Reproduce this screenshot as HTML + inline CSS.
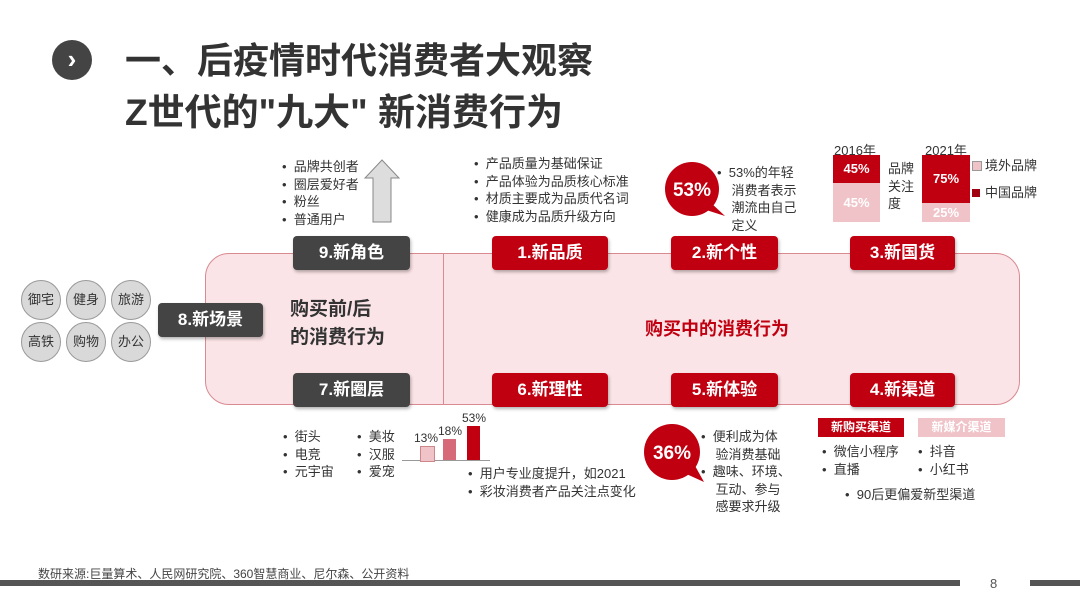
<!DOCTYPE html>
<html><head><meta charset="utf-8"><style>
body{margin:0;width:1080px;height:608px;background:#fff;position:relative;overflow:hidden;font-family:"Liberation Sans","Noto Sans CJK SC",sans-serif;color:#333}
.a{position:absolute;white-space:nowrap}
.tag{position:absolute;height:34px;line-height:34px;text-align:center;color:#fff;font-weight:bold;font-size:17px;border-radius:4px;box-shadow:1px 2px 3px rgba(0,0,0,.3)}
.dk{background:#444}.rd{background:#c00010}
.c{position:absolute;width:38px;height:38px;border-radius:50%;background:#d9d9d9;border:1px solid #999;text-align:center;line-height:38px;font-size:13px;color:#333}
.s{font-size:13px;line-height:17.5px}
</style></head><body>
<div class="a" style="left:52px;top:40px;width:40px;height:40px;border-radius:50%;background:#444;color:#fff;font-size:26px;text-align:center;line-height:38px;font-weight:bold">›</div>
<div class="a" style="left:125px;top:32px;font-size:36px;font-weight:bold;color:#333">一、后疫情时代消费者大观察</div>
<div class="a" style="left:125px;top:82px;font-size:37px;font-weight:bold;color:#333">Z世代的"九大" 新消费行为</div>

<div class="a" style="left:205px;top:253px;width:813px;height:150px;background:#fbe4e7;border:1px solid #d88a90;border-radius:24px"></div>
<div class="a" style="left:443px;top:253px;width:1px;height:152px;background:#d88a90"></div>

<div class="tag dk" style="left:293px;top:236px;width:117px">9.新角色</div>
<div class="tag rd" style="left:492px;top:236px;width:116px">1.新品质</div>
<div class="tag rd" style="left:671px;top:236px;width:107px">2.新个性</div>
<div class="tag rd" style="left:850px;top:236px;width:105px">3.新国货</div>
<div class="tag dk" style="left:293px;top:373px;width:117px">7.新圈层</div>
<div class="tag rd" style="left:492px;top:373px;width:116px">6.新理性</div>
<div class="tag rd" style="left:671px;top:373px;width:107px">5.新体验</div>
<div class="tag rd" style="left:850px;top:373px;width:105px">4.新渠道</div>
<div class="tag dk" style="left:158px;top:303px;width:105px">8.新场景</div>

<div class="c" style="left:21px;top:280px">御宅</div><div class="c" style="left:66px;top:280px">健身</div><div class="c" style="left:111px;top:280px">旅游</div>
<div class="c" style="left:21px;top:322px">高铁</div><div class="c" style="left:66px;top:322px">购物</div><div class="c" style="left:111px;top:322px">办公</div>

<div class="a" style="left:290px;top:296px;font-size:19px;font-weight:bold;line-height:28px;color:#333">购买前/后<br>的消费行为</div>
<div class="a" style="left:645px;top:315px;font-size:18px;font-weight:bold;color:#c00010">购买中的消费行为</div>

<div class="a s" style="left:282px;top:158px">•&nbsp;&nbsp;品牌共创者<br>•&nbsp;&nbsp;圈层爱好者<br>•&nbsp;&nbsp;粉丝<br>•&nbsp;&nbsp;普通用户</div>
<svg class="a" style="left:362px;top:158px" width="40" height="66"><polygon points="20,2 37,20 29,20 29,64 11,64 11,20 3,20" fill="#ddd" stroke="#888"/></svg>

<div class="a s" style="left:474px;top:155px">•&nbsp;&nbsp;产品质量为基础保证<br>•&nbsp;&nbsp;产品体验为品质核心标准<br>•&nbsp;&nbsp;材质主要成为品质代名词<br>•&nbsp;&nbsp;健康成为品质升级方向</div>

<svg class="a" style="left:660px;top:158px" width="66" height="66"><circle cx="32" cy="31" r="27" fill="#c00010"/><polygon points="40,50 65,58 50,44" fill="#c00010"/><text x="32" y="38" fill="#fff" font-size="19" font-weight="bold" text-anchor="middle" font-family="Liberation Sans">53%</text></svg>
<div class="a s" style="left:717px;top:164px">•&nbsp;&nbsp;53%的年轻<br>&nbsp;&nbsp;&nbsp;&nbsp;消费者表示<br>&nbsp;&nbsp;&nbsp;&nbsp;潮流由自己<br>&nbsp;&nbsp;&nbsp;&nbsp;定义</div>

<div class="a" style="left:834px;top:140px;font-size:13px">2016年</div>
<div class="a" style="left:833px;top:155px;width:47px;height:28px;background:#c00010;color:#fff;font-size:13px;font-weight:bold;text-align:center;line-height:28px">45%</div>
<div class="a" style="left:833px;top:183px;width:47px;height:39px;background:#f0c3c8;color:#fff;font-size:13px;font-weight:bold;text-align:center;line-height:39px">45%</div>
<div class="a s" style="left:888px;top:160px">品牌<br>关注<br>度</div>
<div class="a" style="left:925px;top:140px;font-size:13px">2021年</div>
<div class="a" style="left:922px;top:155px;width:48px;height:48px;background:#c00010;color:#fff;font-size:13px;font-weight:bold;text-align:center;line-height:48px">75%</div>
<div class="a" style="left:922px;top:203px;width:48px;height:19px;background:#f0c3c8;color:#fff;font-size:13px;font-weight:bold;text-align:center;line-height:19px">25%</div>
<div class="a" style="left:972px;top:161px;width:8px;height:8px;background:#f0c3c8;border:1px solid #999"></div>
<div class="a s" style="left:985px;top:157px">境外品牌</div>
<div class="a" style="left:972px;top:189px;width:8px;height:8px;background:#a00010"></div>
<div class="a s" style="left:985px;top:184px">中国品牌</div>

<div class="a s" style="left:283px;top:428px">•&nbsp;&nbsp;街头<br>•&nbsp;&nbsp;电竞<br>•&nbsp;&nbsp;元宇宙</div>
<div class="a s" style="left:357px;top:428px">•&nbsp;&nbsp;美妆<br>•&nbsp;&nbsp;汉服<br>•&nbsp;&nbsp;爱宠</div>

<div class="a" style="left:402px;top:460px;width:88px;height:1px;background:#999"></div>
<div class="a" style="left:420px;top:446px;width:13px;height:14px;background:#f0c3c8;border:1px solid #c88"></div>
<div class="a" style="left:443px;top:439px;width:13px;height:21px;background:#d76a78"></div>
<div class="a" style="left:467px;top:426px;width:13px;height:34px;background:#c00010"></div>
<div class="a" style="left:414px;top:431px;font-size:12px">13%</div>
<div class="a" style="left:438px;top:424px;font-size:12px">18%</div>
<div class="a" style="left:462px;top:411px;font-size:12px">53%</div>
<div class="a s" style="left:468px;top:465px">•&nbsp;&nbsp;用户专业度提升，如2021<br>•&nbsp;&nbsp;彩妆消费者产品关注点变化</div>

<svg class="a" style="left:642px;top:420px" width="66" height="66"><circle cx="30" cy="32" r="28" fill="#c00010"/><polygon points="40,52 62,62 52,44" fill="#c00010"/><text x="30" y="39" fill="#fff" font-size="19" font-weight="bold" text-anchor="middle" font-family="Liberation Sans">36%</text></svg>
<div class="a s" style="left:701px;top:428px">•&nbsp;&nbsp;便利成为体<br>&nbsp;&nbsp;&nbsp;&nbsp;验消费基础<br>•&nbsp;&nbsp;趣味、环境、<br>&nbsp;&nbsp;&nbsp;&nbsp;互动、参与<br>&nbsp;&nbsp;&nbsp;&nbsp;感要求升级</div>

<div class="a" style="left:818px;top:418px;width:86px;height:19px;background:#c00010;color:#fff;font-size:12px;font-weight:bold;text-align:center;line-height:19px">新购买渠道</div>
<div class="a" style="left:918px;top:418px;width:87px;height:19px;background:#f0c3c8;color:#fff;font-size:12px;font-weight:bold;text-align:center;line-height:19px">新媒介渠道</div>
<div class="a s" style="left:822px;top:443px">•&nbsp;&nbsp;微信小程序<br>•&nbsp;&nbsp;直播</div>
<div class="a s" style="left:918px;top:443px">•&nbsp;&nbsp;抖音<br>•&nbsp;&nbsp;小红书</div>
<div class="a s" style="left:845px;top:486px">•&nbsp;&nbsp;90后更偏爱新型渠道</div>

<div class="a" style="left:38px;top:565px;font-size:12px;color:#444">数研来源:巨量算术、人民网研究院、360智慧商业、尼尔森、公开资料</div>
<div class="a" style="left:0;top:580px;width:960px;height:6px;background:#555"></div>
<div class="a" style="left:1030px;top:580px;width:50px;height:6px;background:#555"></div>
<div class="a" style="left:990px;top:576px;font-size:13px;color:#555">8</div>
</body></html>
